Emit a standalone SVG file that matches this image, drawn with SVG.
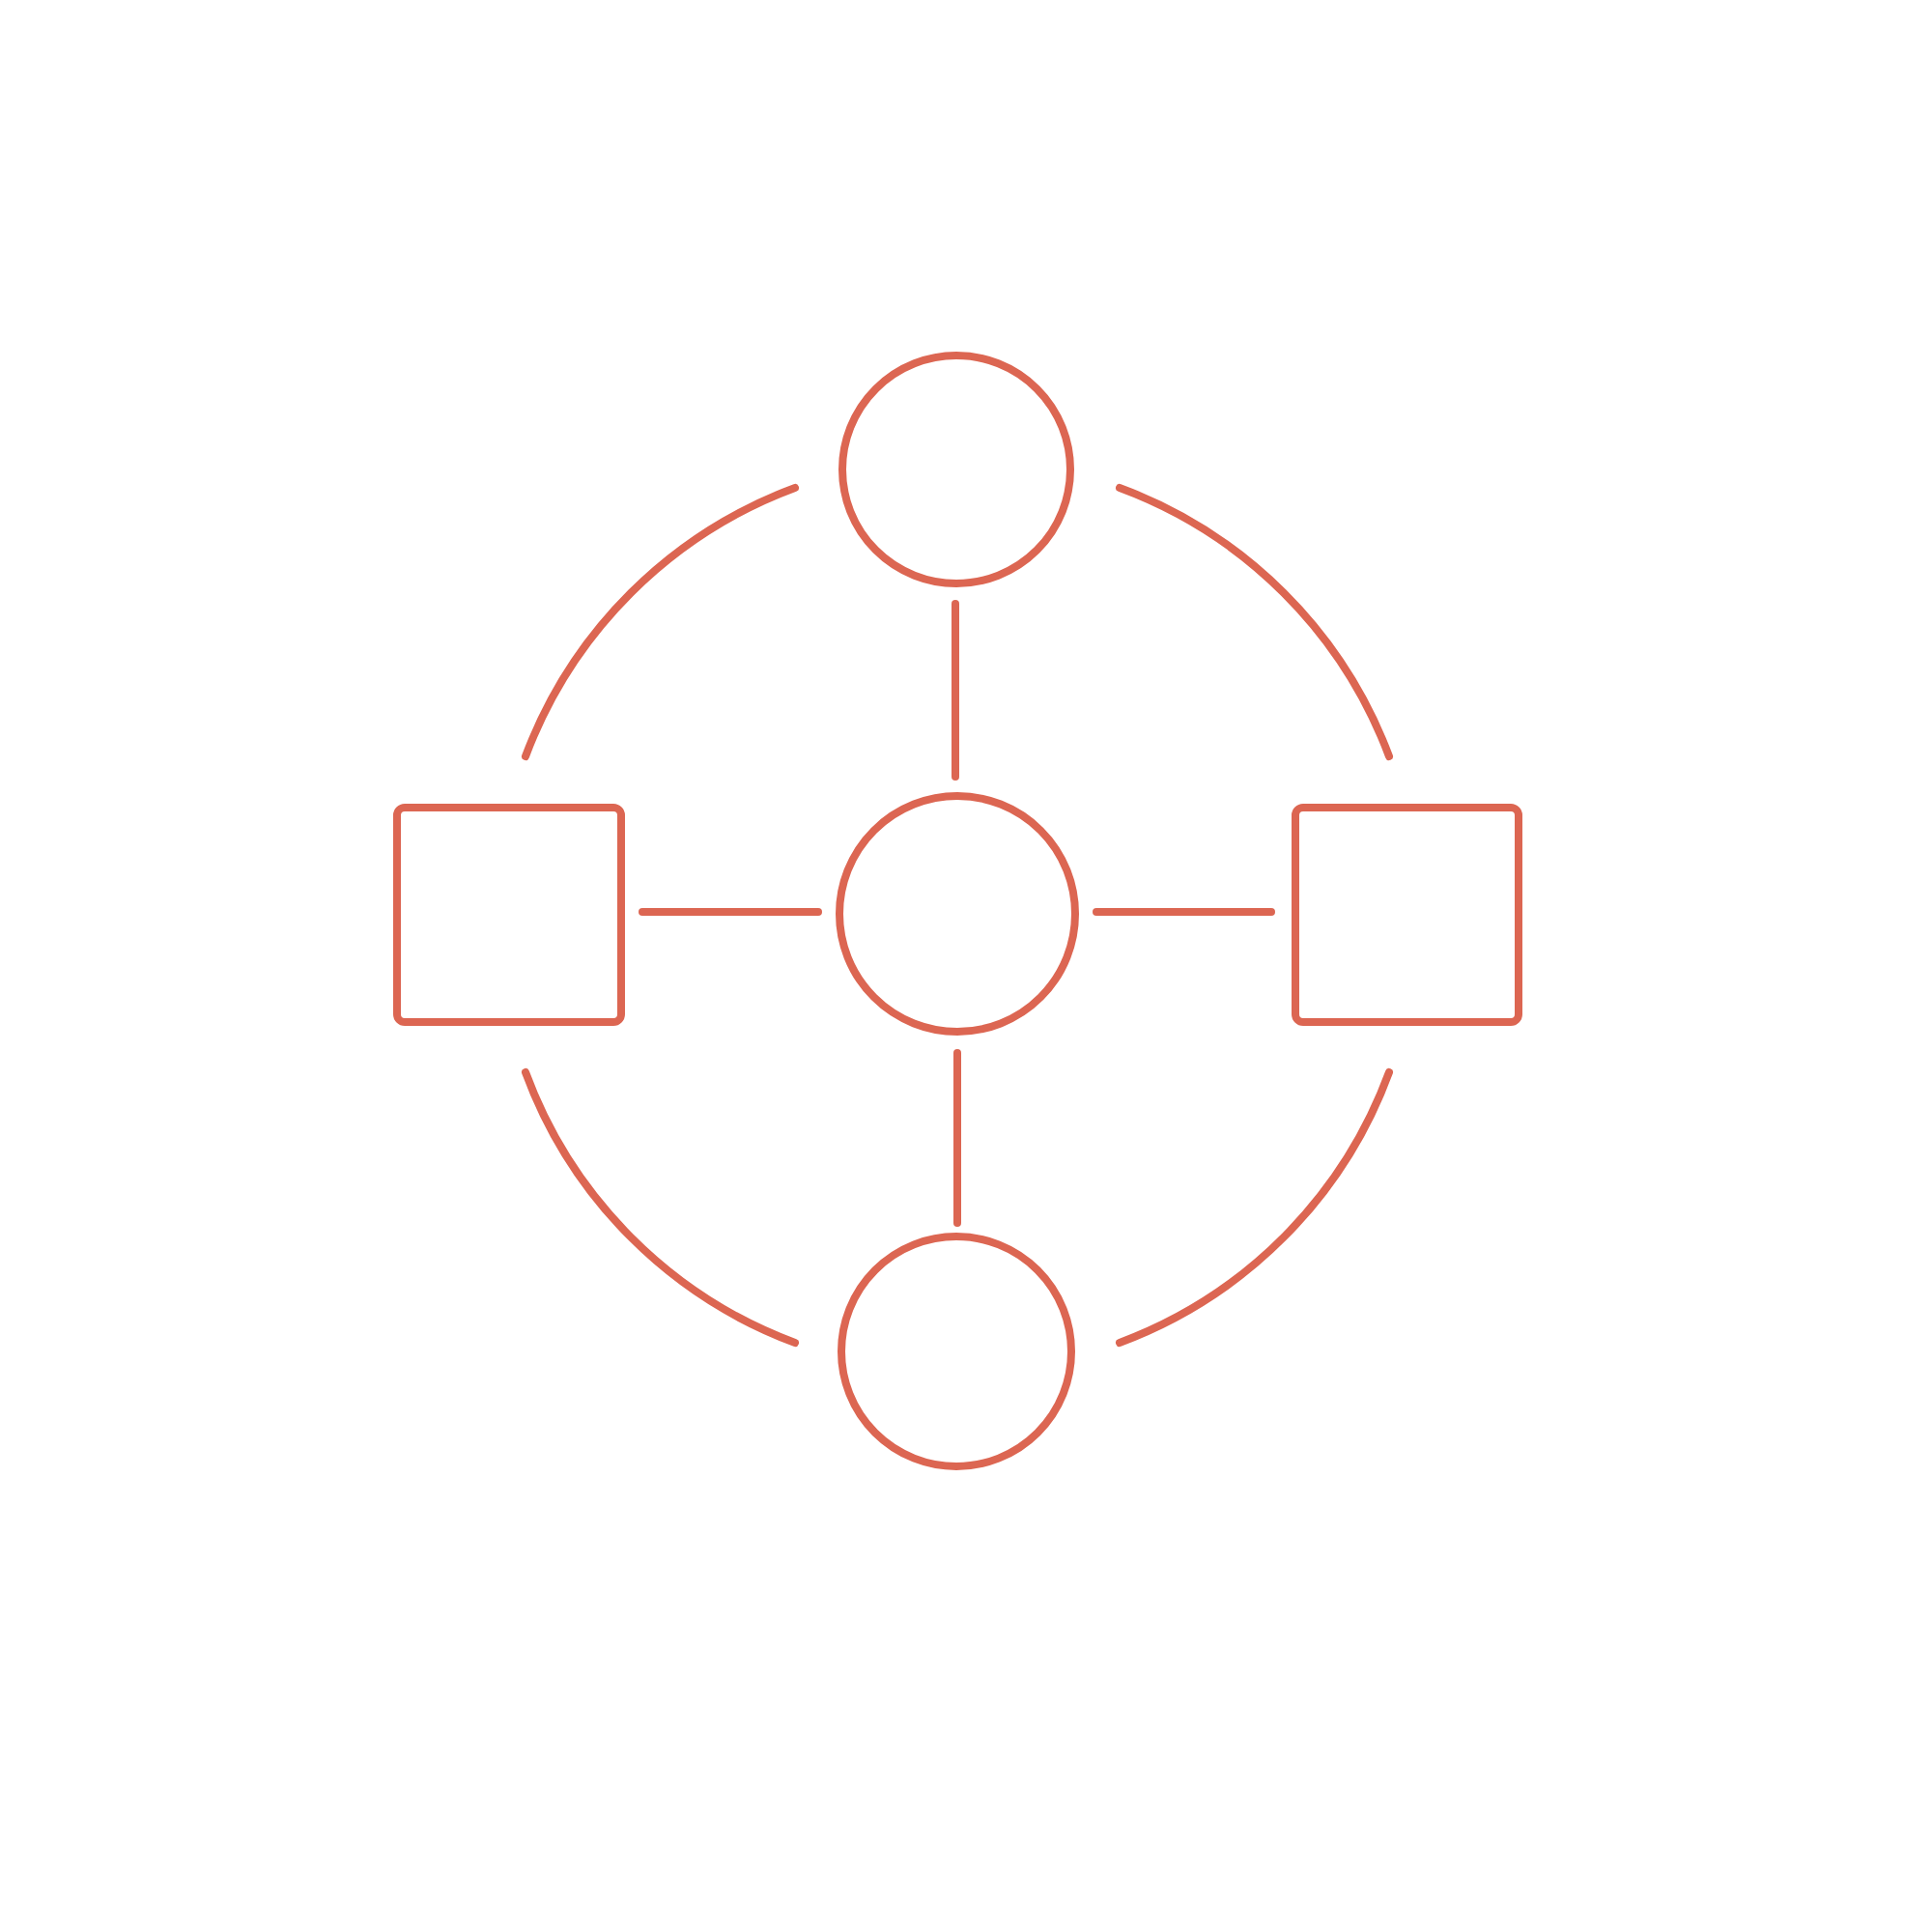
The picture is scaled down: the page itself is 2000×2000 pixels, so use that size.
<svg xmlns="http://www.w3.org/2000/svg" width="2000" height="2000" viewBox="0 0 2000 2000">
<style>
.s{fill:none;stroke:#dc6652;stroke-width:8;stroke-linecap:round;stroke-linejoin:round}
</style>
<rect width="2000" height="2000" fill="#ffffff"/>
<g id="connectors">
<line class="s" x1="989" y1="625" x2="989" y2="804"/>
<line class="s" x1="991" y1="1090" x2="991" y2="1266"/>
<line class="s" x1="665" y1="944" x2="847" y2="944"/>
<line class="s" x1="1135" y1="944" x2="1316" y2="944"/>
<path class="s" d="M 823 505 A 473 473 0 0 0 544 783"/>
<path class="s" d="M 1159 505 A 473 473 0 0 1 1438 783"/>
<path class="s" d="M 544 1110 A 473 473 0 0 0 823 1390"/>
<path class="s" d="M 1438 1110 A 473 473 0 0 1 1159 1390"/>
</g>
<g id="node-top"><circle class="s" cx="990" cy="486" r="118"/></g>
<g id="node-center"><circle class="s" cx="991" cy="946" r="122"/></g>
<g id="node-bottom"><circle class="s" cx="990" cy="1399" r="119"/></g>
<g id="node-left"><rect class="s" x="411" y="836" width="232" height="222" rx="8"/></g>
<g id="node-right"><rect class="s" x="1341" y="836" width="231" height="222" rx="8"/></g>
</svg>
